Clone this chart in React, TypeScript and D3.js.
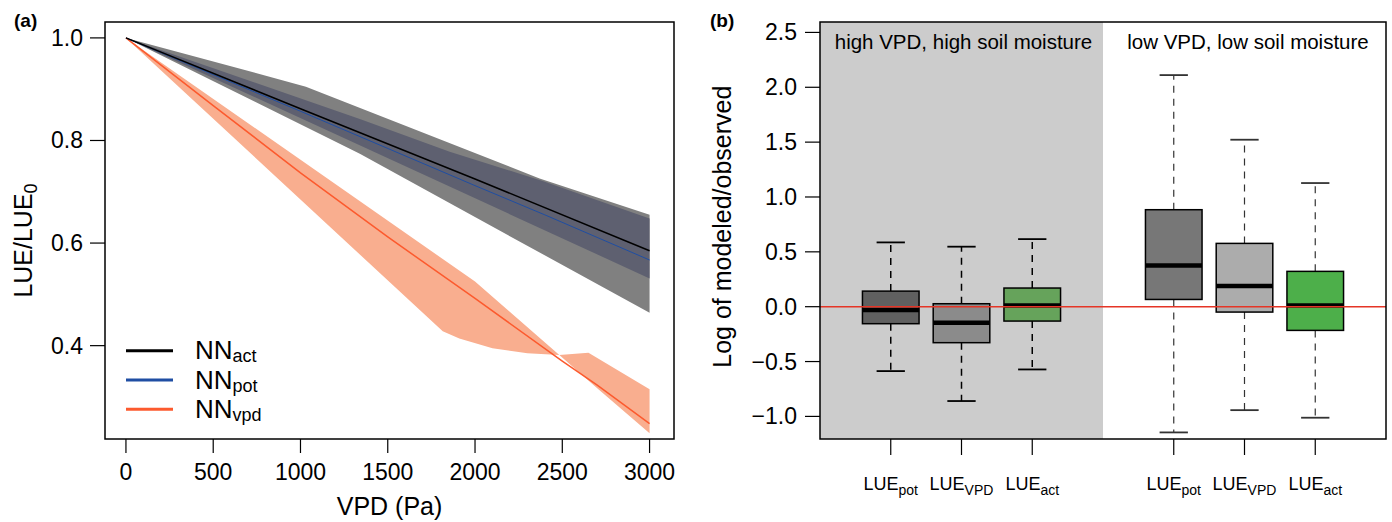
import React, { useRef, useEffect } from "react";
import * as d3 from "d3";

// ---- panel (a): LUE/LUE0 response to VPD ----
const vpdTicks = [0, 500, 1000, 1500, 2000, 2500, 3000];
const lueTicks = [0.4, 0.6, 0.8, 1.0];

const actVpd = [0, 1000, 2000, 3000];
const actLue = [1.0, 0.862, 0.725, 0.585];
const potVpd = [0, 1000, 2000, 2400, 3000];
const potLue = [1.0, 0.857, 0.712, 0.655, 0.567];
const nnVpdVpd = [0, 500, 1000, 1500, 2000, 2500, 2700, 3000];
const nnVpdLue = [1.0, 0.868, 0.737, 0.612, 0.492, 0.37, 0.323, 0.248];

// uncertainty band edges
const actUpVpd = [0, 1031, 2370, 3000];
const actUpLue = [1.0, 0.905, 0.726, 0.655];
const actLoVpd = [0, 1340, 3000];
const actLoLue = [1.0, 0.774, 0.464];
const potUpVpd = [0, 1340, 1855, 2387, 3000];
const potUpLue = [1.0, 0.842, 0.778, 0.721, 0.648];
const potLoVpd = [0, 3000];
const potLoLue = [1.0, 0.531];
const vpdAVpd = [0, 2000, 2483, 2650, 3000];
const vpdALue = [1.0, 0.525, 0.382, 0.386, 0.315];
const vpdBVpd = [0, 1815, 1910, 2100, 2300, 2483, 2700, 3000];
const vpdBLue = [1.0, 0.428, 0.414, 0.395, 0.385, 0.382, 0.317, 0.229];

const legendNames = ["act", "pot", "vpd"];
const legendColors = ["#000000", "#1f4ea3", "#fc5a2e"];

// ---- panel (b): boxplots of log(modeled/observed) ----
const boxPos = [1, 2, 3, 5, 6, 7];
const boxSub = ["pot", "VPD", "act", "pot", "VPD", "act"];
const whiskLo = [-0.587, -0.86, -0.572, -1.146, -0.943, -1.012];
const q1 = [-0.155, -0.328, -0.131, 0.066, -0.049, -0.216];
const med = [-0.031, -0.146, 0.012, 0.376, 0.188, 0.012];
const q3 = [0.142, 0.027, 0.17, 0.884, 0.577, 0.322];
const whiskHi = [0.586, 0.547, 0.616, 2.111, 1.522, 1.127];
const boxColors = ["#606060", "#8b8b8b", "#66a35b", "#777777", "#acacac", "#4daf4a"];
const logTicks = [-1.0, -0.5, 0.0, 0.5, 1.0, 1.5, 2.0, 2.5];

const FONT = "Liberation Sans, Arial, Helvetica, sans-serif";

const App = () => {
  const svgRef = useRef(null);

  useEffect(() => {
    const svg = d3.select(svgRef.current);
    svg.selectAll("*").remove();
    svg.attr("font-family", FONT);

    // ================= panel a =================
    const a = { left: 105, right: 674, top: 22, bottom: 439 };
    const xA = d3.scaleLinear().domain([-120, 3140]).range([a.left, a.right]);
    const yA = d3.scaleLinear().domain([0.218, 1.031]).range([a.bottom, a.top]);

    const pts = (xs, ys) => xs.map((v, i) => [v, ys[i]]);
    const line = d3
      .line()
      .x((d) => xA(d[0]))
      .y((d) => yA(d[1]));
    const poly = (ux, uy, lx, ly) =>
      line(pts(ux, uy).concat(pts(lx, ly).reverse())) + "Z";

    const gA = svg.append("g");
    gA.append("path").attr("d", poly(actUpVpd, actUpLue, actLoVpd, actLoLue)).attr("fill", "#808080");
    gA.append("path").attr("d", poly(potUpVpd, potUpLue, potLoVpd, potLoLue)).attr("fill", "#5e6070");
    gA.append("path").attr("d", poly(vpdAVpd, vpdALue, vpdBVpd, vpdBLue)).attr("fill", "#f9ae8f");

    gA.append("path").attr("d", line(pts(nnVpdVpd, nnVpdLue))).attr("fill", "none")
      .attr("stroke", legendColors[2]).attr("stroke-width", 1.5);
    gA.append("path").attr("d", line(pts(potVpd, potLue))).attr("fill", "none")
      .attr("stroke", legendColors[1]).attr("stroke-width", 1);
    gA.append("path").attr("d", line(pts(actVpd, actLue))).attr("fill", "none")
      .attr("stroke", legendColors[0]).attr("stroke-width", 1.5);

    // box
    gA.append("rect").attr("x", a.left).attr("y", a.top)
      .attr("width", a.right - a.left).attr("height", a.bottom - a.top)
      .attr("fill", "none").attr("stroke", "#000").attr("stroke-width", 1.5);

    // x axis
    vpdTicks.forEach((t) => {
      gA.append("line").attr("x1", xA(t)).attr("x2", xA(t))
        .attr("y1", a.bottom).attr("y2", a.bottom + 14).attr("stroke", "#000").attr("stroke-width", 1.2);
      gA.append("text").attr("x", xA(t)).attr("y", 480).attr("text-anchor", "middle")
        .attr("font-size", 23).text(t);
    });
    // y axis
    lueTicks.forEach((t) => {
      gA.append("line").attr("x1", a.left - 15).attr("x2", a.left)
        .attr("y1", yA(t)).attr("y2", yA(t)).attr("stroke", "#000").attr("stroke-width", 1.2);
      gA.append("text").attr("x", a.left - 22).attr("y", yA(t) + 8).attr("text-anchor", "end")
        .attr("font-size", 23).text(t.toFixed(1));
    });

    gA.append("text").attr("x", (a.left + a.right) / 2).attr("y", 515).attr("text-anchor", "middle")
      .attr("font-size", 25).text("VPD (Pa)");
    const yl = gA.append("text").attr("transform", `translate(32,${(a.top + a.bottom) / 2 + 10}) rotate(-90)`)
      .attr("text-anchor", "middle").attr("font-size", 25);
    yl.append("tspan").text("LUE/LUE");
    yl.append("tspan").attr("font-size", 18).attr("dy", 5).text("0");

    gA.append("text").attr("x", 14).attr("y", 27).attr("font-size", 19).attr("font-weight", "bold").text("(a)");

    // legend
    legendNames.forEach((n, i) => {
      const ly = 350.7 + i * 29.3;
      gA.append("line").attr("x1", 126).attr("x2", 173).attr("y1", ly).attr("y2", ly)
        .attr("stroke", legendColors[i]).attr("stroke-width", 3);
      const t = gA.append("text").attr("x", 195).attr("y", ly + 8.5).attr("font-size", 26);
      t.append("tspan").text("NN");
      t.append("tspan").attr("font-size", 18).attr("dy", 3).text(n);
    });

    // ================= panel b =================
    const b = { left: 820, right: 1386, top: 22, bottom: 439 };
    const xB = d3.scaleLinear().domain([0, 8]).range([b.left, b.right]);
    const yB = d3.scaleLinear().domain([-1.206, 2.595]).range([b.bottom, b.top]);
    const gB = svg.append("g");

    gB.append("rect").attr("x", b.left).attr("y", b.top).attr("width", xB(4) - b.left)
      .attr("height", b.bottom - b.top).attr("fill", "#cccccc");

    const bw = 0.8;
    boxPos.forEach((p, i) => {
      const lowSide = p > 4;
      const wCol = lowSide ? "#333" : "#000";
      // whiskers
      [[q3[i], whiskHi[i]], [q1[i], whiskLo[i]]].forEach(([from, to]) => {
        gB.append("line").attr("x1", xB(p)).attr("x2", xB(p)).attr("y1", yB(from)).attr("y2", yB(to))
          .attr("stroke", wCol).attr("stroke-width", lowSide ? 1.2 : 1.5).attr("stroke-dasharray", "7,6");
        gB.append("line").attr("x1", xB(p - bw / 4)).attr("x2", xB(p + bw / 4)).attr("y1", yB(to)).attr("y2", yB(to))
          .attr("stroke", wCol).attr("stroke-width", 1.8);
      });
      gB.append("rect").attr("x", xB(p - bw / 2)).attr("y", yB(q3[i]))
        .attr("width", xB(p + bw / 2) - xB(p - bw / 2)).attr("height", yB(q1[i]) - yB(q3[i]))
        .attr("fill", boxColors[i]).attr("stroke", "#000").attr("stroke-width", 1.5);
      gB.append("line").attr("x1", xB(p - bw / 2)).attr("x2", xB(p + bw / 2)).attr("y1", yB(med[i])).attr("y2", yB(med[i]))
        .attr("stroke", "#000").attr("stroke-width", 4.5);
    });

    // zero reference line
    gB.append("line").attr("x1", b.left).attr("x2", b.right).attr("y1", yB(0)).attr("y2", yB(0))
      .attr("stroke", "#e53526").attr("stroke-width", 1.6);

    gB.append("rect").attr("x", b.left).attr("y", b.top)
      .attr("width", b.right - b.left).attr("height", b.bottom - b.top)
      .attr("fill", "none").attr("stroke", "#000").attr("stroke-width", 1.5);

    logTicks.forEach((t) => {
      gB.append("line").attr("x1", b.left - 15).attr("x2", b.left)
        .attr("y1", yB(t)).attr("y2", yB(t)).attr("stroke", "#000").attr("stroke-width", 1.2);
      gB.append("text").attr("x", b.left - 23).attr("y", yB(t) + 8).attr("text-anchor", "end")
        .attr("font-size", 23).text(t.toFixed(1).replace("-", "\u2212"));
    });

    boxPos.forEach((p, i) => {
      gB.append("line").attr("x1", xB(p)).attr("x2", xB(p)).attr("y1", b.bottom).attr("y2", b.bottom + 16)
        .attr("stroke", "#000").attr("stroke-width", 1.2);
      const t = gB.append("text").attr("x", xB(p)).attr("y", 490).attr("text-anchor", "middle").attr("font-size", 18);
      t.append("tspan").text("LUE");
      t.append("tspan").attr("font-size", 14).attr("dy", 5).text(boxSub[i]);
    });

    gB.append("text").attr("x", 963.5).attr("y", 48.6).attr("text-anchor", "middle")
      .attr("font-size", 20.5).text("high VPD, high soil moisture");
    gB.append("text").attr("x", 1248).attr("y", 48.6).attr("text-anchor", "middle")
      .attr("font-size", 20.5).text("low VPD, low soil moisture");

    gB.append("text").attr("transform", `translate(731,226.7) rotate(-90)`).attr("text-anchor", "middle")
      .attr("font-size", 25).text("Log of modeled/observed");

    gB.append("text").attr("x", 710).attr("y", 27).attr("font-size", 19).attr("font-weight", "bold").text("(b)");
  }, []);

  return (
    <svg
      ref={svgRef}
      width={1392}
      height={522}
      style={{ position: "absolute", left: 0, top: 0, background: "#fff" }}
    ></svg>
  );
};

export default App;
